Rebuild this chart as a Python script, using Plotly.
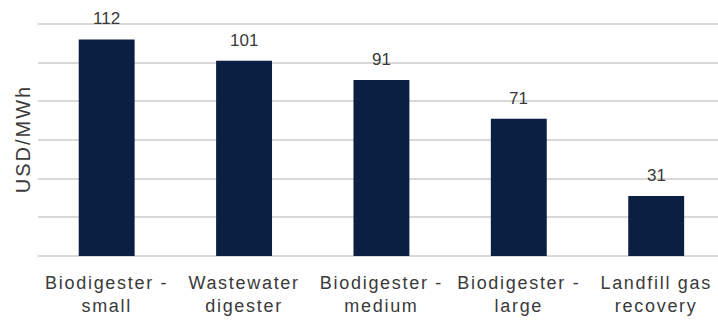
import plotly.graph_objects as go

# Levelised cost of biogas power by technology
categories = [
    "Biodigester -<br>small",
    "Wastewater<br>digester",
    "Biodigester -<br>medium",
    "Biodigester -<br>large",
    "Landfill gas<br>recovery",
]
costs = [112, 101, 91, 71, 31]
y_title = "USD/MWh"

BAR = "#0b1f42"
GRID = "#d9d9d9"
TEXT = "#3a3a3a"
FONT = "Liberation Sans, Arial, sans-serif"


def spaced(label, px):
    return "<br>".join(
        f"<span style='letter-spacing:{px}px'>{part}</span>" for part in label.split("<br>")
    )


fig = go.Figure(
    go.Bar(
        x=list(range(len(categories))),
        y=costs,
        marker=dict(color=BAR, line=dict(width=0)),
        hoverinfo="skip",
    )
)

for i, v in enumerate(costs):
    fig.add_annotation(
        x=i, y=v, text=str(v), showarrow=False,
        yanchor="bottom", yshift=9,
        font=dict(family=FONT, size=17, color=TEXT),
    )

fig.update_layout(
    width=718, height=323,
    margin=dict(l=38, r=0, t=22, b=67),
    paper_bgcolor="white", plot_bgcolor="white",
    bargap=0.593,
    showlegend=False,
    font=dict(family=FONT, color=TEXT),
)
fig.update_xaxes(
    range=[-0.5, 4.45],
    tickmode="array",
    tickvals=list(range(len(categories))),
    ticktext=[spaced(c, 1.7) for c in categories],
    tickfont=dict(family=FONT, size=18, color=TEXT),
    ticklabelstandoff=14,
    showgrid=False, showline=False, ticks="", zeroline=False,
)
fig.update_yaxes(
    range=[0, 121], dtick=20,
    showticklabels=False, ticks="",
    showgrid=True, gridcolor=GRID, gridwidth=1.5,
    zeroline=True, zerolinecolor=GRID, zerolinewidth=1.5,
    title=dict(text=spaced(y_title, 2), font=dict(family=FONT, size=20, color=TEXT), standoff=1),
)

fig.write_html("out.html")
